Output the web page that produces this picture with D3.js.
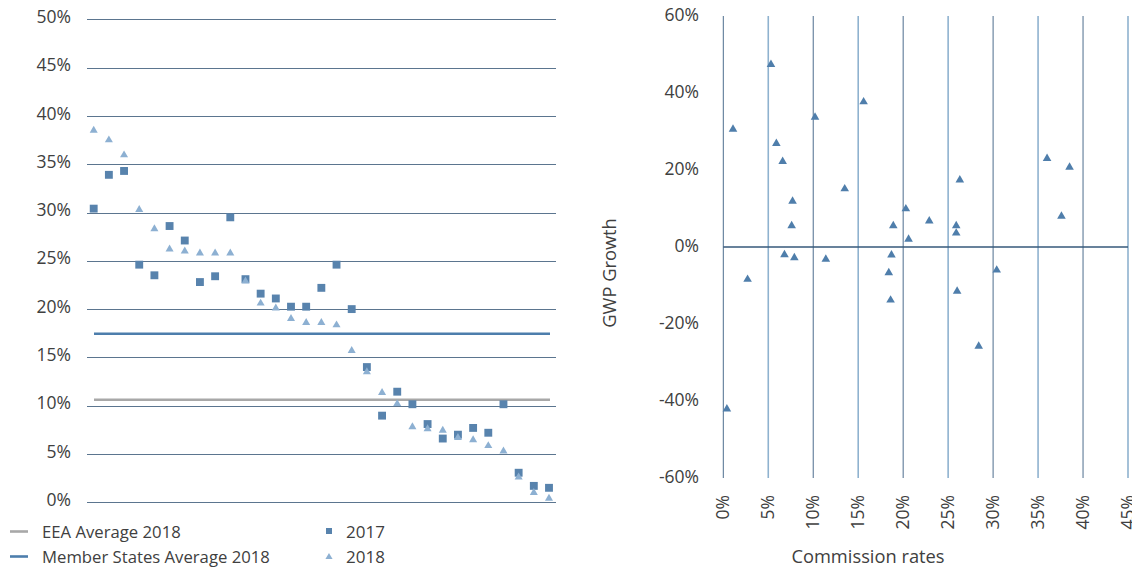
<!DOCTYPE html>
<html>
<head>
<meta charset="utf-8">
<script src="https://cdn.jsdelivr.net/npm/d3@7"></script>
<style>
  html, body { margin: 0; padding: 0; background: #fff; }
  svg { display: block; font-family: "Open Sans", "Noto Sans", sans-serif; }
</style>
</head>
<body>
<svg id="chart" width="1132" height="571"></svg>
<script>
// ---------- DATA ----------
const categories = d3.range(1, 32).map(String);
const values2017 = [30.4, 33.9, 34.3, 24.6, 23.5, 28.6, 27.1, 22.8, 23.4, 29.5, 23.1, 21.6, 21.1, 20.25, 20.25, 22.2, 24.6, 20.0, 14.0, 8.97, 11.45, 10.15, 8.1, 6.6, 7.0, 7.7, 7.2, 10.15, 3.06, 1.7, 1.5];
const values2018 = [38.5, 37.5, 35.95, 30.3, 28.3, 26.2, 26.0, 25.8, 25.8, 25.8, 22.9, 20.6, 20.1, 19.0, 18.6, 18.6, 18.35, 15.7, 13.5, 11.35, 10.2, 7.8, 7.6, 7.45, 6.7, 6.45, 5.85, 5.3, 2.6, 1.0, 0.4];
const eeaAverage2018 = 10.62;
const memberStatesAverage2018 = 17.45;
const leftTicks = [0, 5, 10, 15, 20, 25, 30, 35, 40, 45, 50];

const commissionRates = [5.3, 1.08, 10.2, 5.9, 6.6, 7.7, 7.6, 13.5, 15.6, 36.0, 38.5, 26.3, 20.3, 18.9, 22.9, 25.9, 25.9, 20.6, 37.6, 18.7, 6.8, 7.9, 11.4, 2.7, 0.4, 18.4, 30.4, 26.0, 18.6, 28.4];
const gwpGrowth =       [47.4, 30.6, 33.7, 26.9, 22.2, 11.9, 5.5, 15.1, 37.7, 23.0, 20.7, 17.4, 9.9, 5.5, 6.75, 5.5, 3.6, 2.0, 8.0, -2.1, -2.0, -2.8, -3.2, -8.4, -42.1, -6.7, -6.0, -11.5, -13.8, -25.8];
const rightXTicks = [0, 5, 10, 15, 20, 25, 30, 35, 40, 45];
const rightYTicks = [-60, -40, -20, 0, 20, 40, 60];

// ---------- STYLE ----------
const textColor = "#404040";
const gridColor = "#3f5d7c";
const color2017 = "#5883ad";
const color2018 = "#8db0d2";
const colorRight = "#4f7eab";
const eeaColor = "#a8a8a8";
const msColor = "#4d7eac";

const svg = d3.select("#chart");

// ================= LEFT CHART =================
const xL = d3.scalePoint().domain(categories).range([93.7, 549]);
const yL = d3.scaleLinear().domain([0, 50]).range([502.3, 19.3]);
const gridLeft = 87, gridRight = 556;

const gL = svg.append("g");

gL.append("g").selectAll("line").data(leftTicks).join("line")
  .attr("x1", gridLeft).attr("x2", gridRight)
  .attr("y1", d => Math.round(yL(d)) + 0.5).attr("y2", d => Math.round(yL(d)) + 0.5)
  .attr("stroke", gridColor).attr("stroke-width", 1.2).attr("opacity", 0.85);

gL.append("g").selectAll("text").data(leftTicks).join("text")
  .attr("x", 71).attr("y", d => yL(d) - 2.5)
  .attr("dy", "0.35em").attr("text-anchor", "end")
  .attr("font-size", 17.5).attr("fill", textColor)
  .text(d => d + "%");

gL.append("line")
  .attr("x1", 94).attr("x2", 550)
  .attr("y1", yL(memberStatesAverage2018)).attr("y2", yL(memberStatesAverage2018))
  .attr("stroke", msColor).attr("stroke-width", 2.6);
gL.append("line")
  .attr("x1", 94).attr("x2", 550)
  .attr("y1", yL(eeaAverage2018)).attr("y2", yL(eeaAverage2018))
  .attr("stroke", eeaColor).attr("stroke-width", 2.6);

const sq = d3.symbol().type(d3.symbolSquare).size(62);
const triL = d3.symbol().type(d3.symbolTriangle).size(28);
gL.append("g").selectAll("path").data(values2017).join("path")
  .attr("d", sq)
  .attr("transform", (d, i) => `translate(${xL(categories[i])},${yL(d)})`)
  .attr("fill", color2017);
gL.append("g").selectAll("path").data(values2018).join("path")
  .attr("d", triL)
  .attr("transform", (d, i) => `translate(${xL(categories[i])},${yL(d)})`)
  .attr("fill", color2018);

// legend
const legend = svg.append("g");
legend.append("line").attr("x1", 10).attr("x2", 28).attr("y1", 531.5).attr("y2", 531.5)
  .attr("stroke", eeaColor).attr("stroke-width", 2.6);
legend.append("line").attr("x1", 10).attr("x2", 28).attr("y1", 556.5).attr("y2", 556.5)
  .attr("stroke", msColor).attr("stroke-width", 2.6);
legend.append("text").attr("x", 42).attr("y", 532).attr("dy", "0.35em")
  .attr("font-size", 16.7).attr("fill", textColor).text("EEA Average 2018");
legend.append("text").attr("x", 42).attr("y", 557).attr("dy", "0.35em")
  .attr("font-size", 16.7).attr("fill", textColor).text("Member States Average 2018");
legend.append("path").attr("d", d3.symbol().type(d3.symbolSquare).size(36))
  .attr("transform", "translate(329,531)").attr("fill", color2017);
legend.append("path").attr("d", d3.symbol().type(d3.symbolTriangle).size(22))
  .attr("transform", "translate(329,557)").attr("fill", color2018);
legend.append("text").attr("x", 346).attr("y", 532).attr("dy", "0.35em")
  .attr("font-size", 17).attr("fill", textColor).text("2017");
legend.append("text").attr("x", 346).attr("y", 557).attr("dy", "0.35em")
  .attr("font-size", 17).attr("fill", textColor).text("2018");

// ================= RIGHT CHART =================
const xR = d3.scaleLinear().domain([0, 45]).range([723.3, 1128]);
const yR = d3.scaleLinear().domain([-60, 60]).range([478, 16]);

const gR = svg.append("g");

gR.append("g").selectAll("line").data(rightXTicks).join("line")
  .attr("x1", d => xR(d)).attr("x2", d => xR(d))
  .attr("y1", yR(60)).attr("y2", yR(-60))
  .attr("stroke", (d, i) => i % 2 === 0 ? "#4d6d8e" : "#8fb2cf")
  .attr("stroke-width", (d, i) => i % 2 === 0 ? 1 : 1.6);

gR.append("line")
  .attr("x1", xR(0)).attr("x2", xR(45))
  .attr("y1", yR(0)).attr("y2", yR(0))
  .attr("stroke", "#36587a").attr("stroke-width", 1.3);

gR.append("g").selectAll("text").data(rightYTicks).join("text")
  .attr("x", 699).attr("y", d => yR(d) - 1)
  .attr("dy", "0.35em").attr("text-anchor", "end")
  .attr("font-size", 17.5).attr("fill", textColor)
  .text(d => d + "%");

gR.append("g").selectAll("text").data(rightXTicks).join("text")
  .attr("transform", d => `translate(${xR(d)},495) rotate(-90)`)
  .attr("dy", "0.35em").attr("text-anchor", "end")
  .attr("font-size", 17.5).attr("fill", textColor)
  .text(d => d + "%");

gR.append("text")
  .attr("x", 868).attr("y", 557).attr("dy", "0.35em")
  .attr("text-anchor", "middle").attr("font-size", 18.3).attr("fill", textColor)
  .text("Commission rates");
gR.append("text")
  .attr("transform", "translate(610,273) rotate(-90)")
  .attr("dy", "0.35em").attr("text-anchor", "middle")
  .attr("font-size", 18.3).attr("fill", textColor)
  .text("GWP Growth");

const triR = d3.symbol().type(d3.symbolTriangle).size(32);
gR.append("g").selectAll("path").data(commissionRates).join("path")
  .attr("d", triR)
  .attr("transform", (d, i) => `translate(${xR(d)},${yR(gwpGrowth[i])})`)
  .attr("fill", colorRight);
</script>
</body>
</html>
